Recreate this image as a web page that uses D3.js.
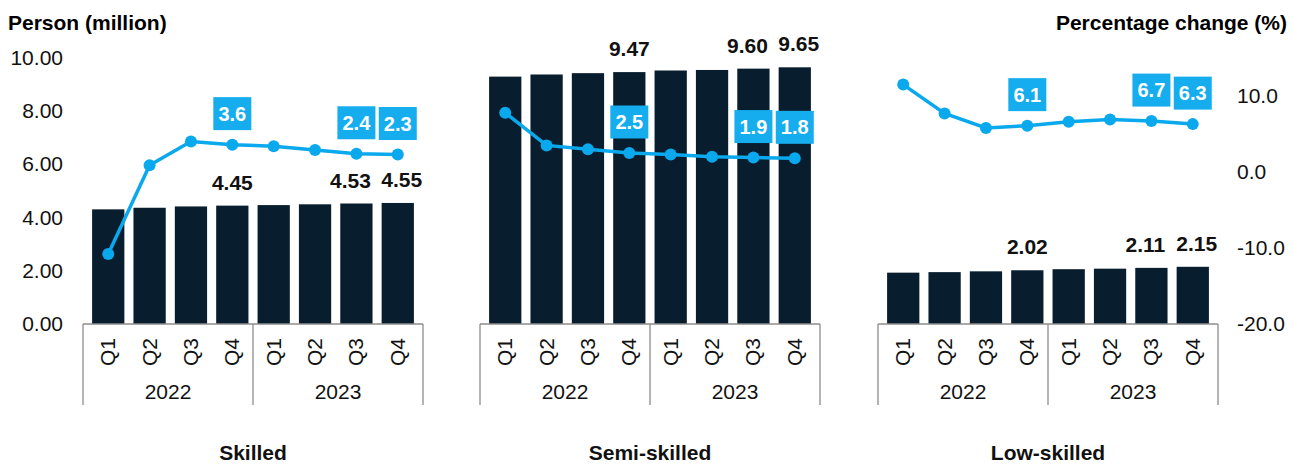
<!DOCTYPE html>
<html lang="en">
<head>
    <meta charset="UTF-8">
    <title>skill_levels</title>
    <style>
        body { margin: 0; background: #fff; }
        text { font-family: "Liberation Sans", Arial, sans-serif; }
    </style>
</head>
<body>
    <script src="https://cdn.jsdelivr.net/npm/d3@7"></script>
    <script>
        var width = 1294;
        var height = 464;

        // data
        var quarters = ["Q1", "Q2", "Q3", "Q4", "Q1", "Q2", "Q3", "Q4"];
        var years = ["2022", "2023"];
        var groups = ["Skilled", "Semi-skilled", "Low-skilled"];
        var skilledPersons = [4.31, 4.37, 4.42, 4.45, 4.47, 4.50, 4.53, 4.55];
        var semiPersons = [9.30, 9.38, 9.43, 9.47, 9.53, 9.55, 9.60, 9.65];
        var lowPersons = [1.93, 1.95, 1.98, 2.02, 2.06, 2.08, 2.11, 2.15];
        var skilledChange = [-10.8, 0.9, 4.0, 3.6, 3.4, 2.9, 2.4, 2.3];
        var semiChange = [7.8, 3.5, 3.0, 2.5, 2.3, 2.0, 1.9, 1.8];
        var lowChange = [11.5, 7.7, 5.8, 6.1, 6.6, 6.9, 6.7, 6.3];
        var leftTicks = [0, 2, 4, 6, 8, 10];
        var rightTicks = [-20, -10, 0, 10];
        var labelled = [3, 6, 7];

        var persons = [skilledPersons, semiPersons, lowPersons];
        var changes = [skilledChange, semiChange, lowChange];

        var barColor = "#081d2d";
        var lineColor = "#0aa8ec";
        var boxColor = "#16adef";
        var axisColor = "#8c8c8c";

        var panelX = [83, 480, 878];
        var panelW = 340;
        var plotTop = 58, plotBottom = 324;
        // nudge of bar value labels so neighbours don't collide
        var valShift = {3: 0, 6: -6, 7: 4};

        var svg = d3.select("body")
                    .append("svg")
                    .attr("width", width)
                    .attr("height", height);

        var y = d3.scaleLinear().domain([0, 10]).range([plotBottom, plotTop]);
        var y2 = d3.scaleLinear().domain([-20, 15]).range([plotBottom, plotTop]);

        // left axis
        svg.append("g")
           .selectAll("text")
           .data(leftTicks)
           .enter()
           .append("text")
           .attr("x", 63)
           .attr("y", d => y(d) + 7)
           .attr("text-anchor", "end")
           .attr("font-size", 21)
           .attr("fill", "#111")
           .text(d => d.toFixed(2));

        // right axis
        svg.append("g")
           .selectAll("text")
           .data(rightTicks)
           .enter()
           .append("text")
           .attr("x", 1237)
           .attr("y", d => y2(d) + 7)
           .attr("text-anchor", "start")
           .attr("font-size", 21)
           .attr("fill", "#111")
           .text(d => d.toFixed(1));

        svg.append("text")
           .attr("x", 8).attr("y", 30)
           .attr("font-size", 21).attr("font-weight", "bold")
           .text("Person (million)");
        svg.append("text")
           .attr("x", 1287).attr("y", 30)
           .attr("text-anchor", "end")
           .attr("font-size", 21).attr("font-weight", "bold")
           .text("Percentage change (%)");

        groups.forEach(function(name, gi) {
            var x = d3.scaleBand()
                      .domain(d3.range(8))
                      .range([panelX[gi], panelX[gi] + panelW])
                      .padding(0.22);
            var g = svg.append("g");
            var vals = persons[gi];
            var chg = changes[gi];

            // bars
            g.selectAll("rect.bar")
             .data(vals)
             .enter()
             .append("rect")
             .attr("class", "bar")
             .attr("x", (d, i) => x(i))
             .attr("y", d => y(d))
             .attr("width", x.bandwidth())
             .attr("height", d => plotBottom - y(d))
             .attr("fill", barColor);

            // bar labels
            g.selectAll("text.val")
             .data(labelled)
             .enter()
             .append("text")
             .attr("class", "val")
             .attr("x", i => x(i) + x.bandwidth() / 2 + valShift[i])
             .attr("y", i => y(vals[i]) - 16)
             .attr("text-anchor", "middle")
             .attr("font-size", 21)
             .attr("font-weight", "bold")
             .attr("fill", "#111")
             .text(i => vals[i].toFixed(2));

            // line
            var line = d3.line()
                         .x((d, i) => x(i) + x.bandwidth() / 2)
                         .y(d => y2(d));
            g.append("path")
             .attr("d", line(chg))
             .attr("fill", "none")
             .attr("stroke", lineColor)
             .attr("stroke-width", 3.5);
            g.selectAll("circle")
             .data(chg)
             .enter()
             .append("circle")
             .attr("cx", (d, i) => x(i) + x.bandwidth() / 2)
             .attr("cy", d => y2(d))
             .attr("r", 6)
             .attr("fill", lineColor);

            // line labels
            var lab = g.selectAll("g.lab")
                       .data(labelled)
                       .enter()
                       .append("g")
                       .attr("class", "lab")
                       .attr("transform", i => "translate(" + (x(i) + x.bandwidth() / 2) + "," + (y2(chg[i]) - 31) + ")");
            lab.append("rect")
               .attr("x", -19).attr("y", -16.5)
               .attr("width", 38).attr("height", 33)
               .attr("fill", boxColor);
            lab.append("text")
               .attr("y", 7)
               .attr("text-anchor", "middle")
               .attr("font-size", 20)
               .attr("font-weight", "bold")
               .attr("fill", "#fff")
               .text(i => chg[i].toFixed(1));

            // category axis box
            var x0 = panelX[gi], x1 = panelX[gi] + panelW, xm = (x0 + x1) / 2;
            g.append("line")
             .attr("x1", x0).attr("x2", x1)
             .attr("y1", plotBottom).attr("y2", plotBottom)
             .attr("stroke", axisColor).attr("stroke-width", 1.3);
            [x0, xm, x1].forEach(function(xx) {
                g.append("line")
                 .attr("x1", xx).attr("x2", xx)
                 .attr("y1", plotBottom).attr("y2", 405)
                 .attr("stroke", axisColor).attr("stroke-width", 1.3);
            });
            g.selectAll("text.q")
             .data(quarters)
             .enter()
             .append("text")
             .attr("class", "q")
             .attr("transform", (d, i) => "translate(" + (x(i) + x.bandwidth() / 2 + 7) + ",352) rotate(-90)")
             .attr("text-anchor", "middle")
             .attr("font-size", 21)
             .attr("fill", "#111")
             .text(d => d);
            g.selectAll("text.yr")
             .data(years)
             .enter()
             .append("text")
             .attr("class", "yr")
             .attr("x", (d, i) => i == 0 ? (x0 + xm) / 2 : (xm + x1) / 2)
             .attr("y", 399)
             .attr("text-anchor", "middle")
             .attr("font-size", 21)
             .attr("fill", "#111")
             .text(d => d);

            g.append("text")
             .attr("x", xm)
             .attr("y", 460)
             .attr("text-anchor", "middle")
             .attr("font-size", 21)
             .attr("font-weight", "bold")
             .attr("fill", "#111")
             .text(name);
        });
    </script>
</body>
</html>
